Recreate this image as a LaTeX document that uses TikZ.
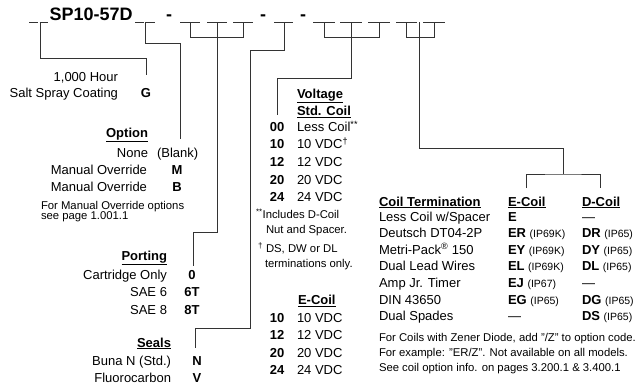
\documentclass[tikz,border=0pt]{standalone}
\usepackage{fontspec}
\setmainfont{Liberation Sans}
\newcommand\fbody{\fontsize{13}{15}\selectfont}
\newcommand\fnote{\fontsize{11.3}{13}\selectfont}
\newcommand\ftitle{\fontsize{18}{20}\selectfont\bfseries}
\newcommand\ipc[1]{{\fontsize{10.5}{12}\selectfont\mdseries(#1)}}
\tikzset{
  every node/.style={inner sep=0pt, outer sep=0pt, text=black},
  ln/.style={draw=black!80, line width=0.9pt},
  blank/.style={draw=black!80, line width=0.9pt},
  body/.style={font=\fbody},
  codec/.style={font=\fbody\bfseries, anchor=base},
  hd/.style={font=\fbody\bfseries},
  note/.style={font=\fnote, anchor=base west},
  ttl/.style={font=\ftitle},
}
\begin{document}
\begin{tikzpicture}[x=1pt,y=-1pt]
\useasboundingbox[fill=white] (0,0) rectangle (640,385);

% ---------- title line ----------
\node[ttl, anchor=base west] (title) at (49.5,21) {SP10-57D};
\node[ttl, anchor=base] (d1) at (169,21) {-};
\node[ttl, anchor=base] (d2) at (263,21) {-};
\node[ttl, anchor=base] (d3) at (303,21) {-};
\foreach \a/\b/\n in {29/38/a1,39.5/48/a2,135/144/b1,146/155/b2,180/200/c1,207/227/c2,233/253/c3,274/293/s1,313/335/v1,340/362/v2,368/390/v3,396/417/k1,423/445/k2}{
  \coordinate (\n L) at (\a,22.5);
  \coordinate (\n R) at (\b,22.5);
  \draw[blank] (\n L) -- (\n R);
}
\coordinate (gTop) at (40,22.5);
\coordinate (oTop) at (145,22.5);
\coordinate (pTop) at (217,22.5);
\coordinate (pT1) at (190,22.5);
\coordinate (pT2) at (243,22.5);
\coordinate (sTop) at (284,22.5);
\coordinate (vTop) at (351,22.5);
\coordinate (vT1) at (324,22.5);
\coordinate (vT2) at (379,22.5);
\coordinate (kTop) at (419.5,22.5);
\coordinate (kT1) at (406.5,22.5);
\coordinate (kT2) at (434,22.5);

% ---------- salt spray ----------
\node[body, anchor=base east] (hour) at (118,81.5) {1,000 Hour};
\node[body, anchor=base east] (salt) at (118,97.5) {Salt Spray Coating};
\node[codec] (G) at (146,97.5) {G};
\coordinate (gEnd) at (146,75);
\draw[ln] (gTop) -- ++(0,35.5) -| (gEnd);

% ---------- option ----------
\node[hd, anchor=base east] (opt) at (148,137.5) {\underline{Option}};
\node[body, anchor=base east] (none) at (148,157.5) {None};
\node[body, anchor=base west] (blank) at (157,157.5) {(Blank)};
\node[body, anchor=base east] (mo1) at (147,175) {Manual Override};
\node[codec] (M) at (177,175) {M};
\node[body, anchor=base east] (mo2) at (147,191.5) {Manual Override};
\node[codec] (B) at (177,191.5) {B};
\node[note] (moA) at (41,209.5) {For Manual Override options};
\node[note] (moB) at (41,219.5) {see page 1.001.1};
\coordinate (oEnd) at (180,139);
\draw[ln] (oTop) -- ++(0,20.5) -| (oEnd);

% ---------- porting ----------
\node[hd, anchor=base east] (port) at (167,260) {\underline{Porting}};
\node[body, anchor=base east] (cart) at (167,279.5) {Cartridge Only};
\node[codec] (P0) at (192,279.5) {0};
\node[body, anchor=base east] (sae6) at (167,296.5) {SAE 6};
\node[codec] (P6) at (192,296.5) {6T};
\node[body, anchor=base east] (sae8) at (167,314) {SAE 8};
\node[codec] (P8) at (192,314) {8T};
\coordinate (pEnd) at (193,266);
\draw[ln] (pT1) -- ++(0,14.5) -| (pT2);
\draw[ln] (pTop) -- ++(0,209.5) -| (pEnd);

% ---------- seals ----------
\node[hd, anchor=base east] (seal) at (171,347) {\underline{Seals}};
\node[body, anchor=base east] (buna) at (171,365.5) {Buna N (Std.)};
\node[codec] (N) at (197,365.5) {N};
\node[body, anchor=base east] (fluo) at (171,382.5) {Fluorocarbon};
\node[codec] (V) at (197,382.5) {V};
\coordinate (sEnd) at (195,348);
\coordinate (sMid) at (250,328);
\draw[ln] (sTop) -- ++(0,27.5) -| (sMid) -| (sEnd);

% ---------- voltage ----------
\node[hd, anchor=base west] (volt) at (297,98.5) {\underline{Voltage}};
\node[hd, anchor=base west] (std) at (297,115.5) {\underline{Std. Coil}};
\foreach \c/\t/\y/\n in {00/{Less Coil\textsuperscript{**}}/131.5/x0,10/{10 VDC\textsuperscript{\dag}}/149/x1,12/{12 VDC}/166.5/x2,20/{20 VDC}/184/x3,24/{24 VDC}/201.5/x4}{
  \node[codec] (c\n) at (277,\y) {\c};
  \node[body, anchor=base west] (t\n) at (297,\y) {\t};
}
\node[note] (inc1) at (256,218) {\textsuperscript{**}Includes D-Coil};
\node[note] (inc2) at (266,233) {Nut and Spacer.};
\node[note] (dag1) at (258,252) {\textsuperscript{\dag} DS, DW or DL};
\node[note] (dag2) at (265,267) {terminations only.};
\coordinate (vEnd) at (277,115);
\draw[ln] (vT1) -- ++(0,14.5) -| (vT2);
\draw[ln] (vTop) -- ++(0,55.5) -| (vEnd);

\node[hd, anchor=base west] (ecoil) at (298,304.5) {\underline{E-Coil}};
\foreach \c/\y/\n in {10/322/e1,12/339.5/e2,20/357/e3,24/374.5/e4}{
  \node[codec] (c\n) at (277,\y) {\c};
  \node[body, anchor=base west] (t\n) at (297,\y) {\c\ VDC};
}

% ---------- coil termination ----------
\node[hd, anchor=base west] (cth) at (379,206) {\underline{Coil Termination}};
\node[hd, anchor=base west] (ech) at (508,206) {\underline{E-Coil}};
\node[hd, anchor=base west] (dch) at (582,206) {\underline{D-Coil}};
\foreach \nm/\e/\d/\y/\n in {
  {Less Coil w/Spacer}/{\textbf{E}}/{---}/221/r0,
  {Deutsch DT04-2P}/{\textbf{ER} \ipc{IP69K}}/{\textbf{DR} \ipc{IP65}}/237.6/r1,
  {Metri-Pack\textsuperscript{\textregistered} 150}/{\textbf{EY} \ipc{IP69K}}/{\textbf{DY} \ipc{IP65}}/254.2/r2,
  {Dual Lead Wires}/{\textbf{EL} \ipc{IP69K}}/{\textbf{DL} \ipc{IP65}}/270.8/r3,
  {Amp Jr. Timer}/{\textbf{EJ} \ipc{IP67}}/{---}/287.4/r4,
  {DIN 43650}/{\textbf{EG} \ipc{IP65}}/{\textbf{DG} \ipc{IP65}}/304/r5,
  {Dual Spades}/{---}/{\textbf{DS} \ipc{IP65}}/320.6/r6}{
  \node[body, anchor=base west] (n\n) at (379,\y) {\nm};
  \node[body, anchor=base west] (e\n) at (508,\y) {\e};
  \node[body, anchor=base west] (d\n) at (582,\y) {\d};
}
\node[note] (z1) at (379,341.5) {For Coils with Zener Diode, add "/Z" to option code.};
\node[note] (z2) at (379,356.5) {For example: "ER/Z". Not available on all models.};
\node[note] (z3) at (379,371.5) {See coil option info. on pages 3.200.1 \& 3.400.1};
\coordinate (kEnd) at (563,174);
\coordinate (kL) at (526,188);
\coordinate (kR) at (600,188);
\draw[ln] (kT1) -- ++(0,14.5) -| (kT2);
\draw[ln] (kTop) -- ++(0,125.5) -| (kEnd);
\draw[ln] (kL) |- (kEnd) -| (kR);
\end{tikzpicture}
\end{document}
